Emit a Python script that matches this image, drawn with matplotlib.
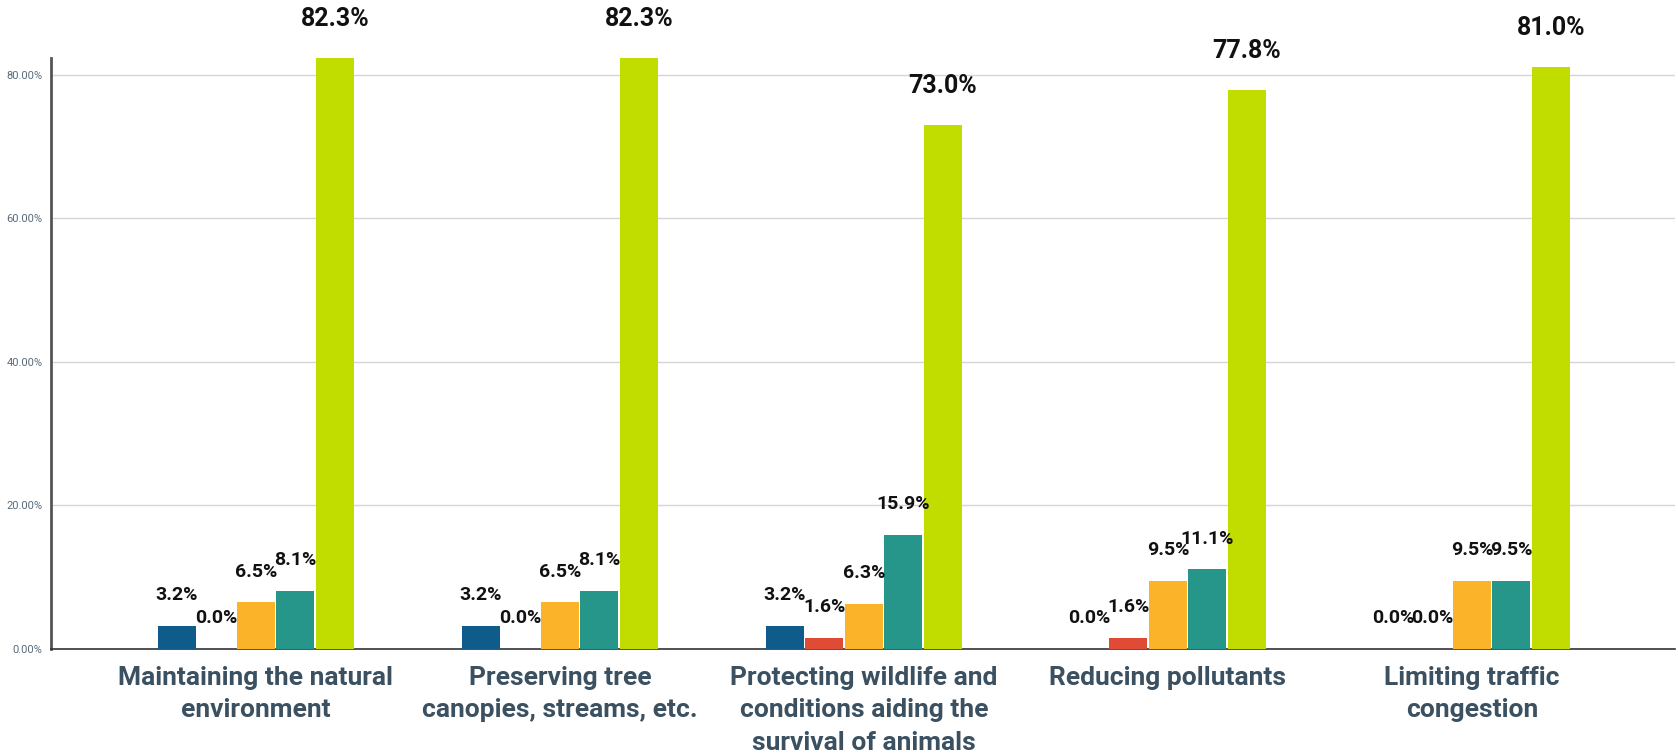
import numpy as np
import matplotlib.pyplot as plt

plt.rcParams['font.family'] = ['Roboto', 'DejaVu Sans']

categories = ['Maintaining the natural\nenvironment',
              'Preserving tree\ncanopies, streams, etc.',
              'Protecting wildlife and\nconditions aiding the\nsurvival of animals',
              'Reducing pollutants',
              'Limiting traffic\ncongestion']
# five response series per category (percent)
s1 = [3.2, 3.2, 3.2, 0.0, 0.0]
s2 = [0.0, 0.0, 1.6, 1.6, 0.0]
s3 = [6.5, 6.5, 6.3, 9.5, 9.5]
s4 = [8.1, 8.1, 15.9, 11.1, 9.5]
s5 = [82.3, 82.3, 73.0, 77.8, 81.0]
series = [s1, s2, s3, s4, s5]
colors = ['#0f5b8c', '#e04b35', '#fbb42a', '#26958a', '#c1dd00']
yticks = [0, 20, 40, 60, 80]

fig = plt.figure(figsize=(16.78, 7.55), dpi=100)
ax = fig.add_axes([0.0304, 0.1404, 0.9676, 0.7828])

x = np.arange(len(categories))
w = 0.125
step = 0.13
for i, (vals, c) in enumerate(zip(series, colors)):
    pos = x + (i - 2) * step
    ax.bar(pos, vals, width=w, color=c, zorder=3)
    big = i == 4
    for px, v in zip(pos, vals):
        ax.annotate(f'{v:.1f}%', (px, v), xytext=(0, 28 if big else 22),
                    textcoords='offset points', ha='center', va='center',
                    fontsize=18 if big else 14, fontweight='bold',
                    color='#111111', zorder=4, annotation_clip=False)

ax.set_xlim(-0.674, 4.667)
ax.set_ylim(0, 82.3)
ax.set_yticks(yticks)
ax.set_yticklabels([f'{t:.2f}%' for t in yticks], fontsize=8, color='#5a6b7a')
ax.set_xticks(x)
ax.set_xticklabels(categories, fontsize=19, fontweight='bold', color='#3b5060',
                   linespacing=1.45)
ax.tick_params(axis='x', length=0, pad=12)
ax.tick_params(axis='y', length=0, pad=6)
ax.grid(axis='y', color='#d6d6d6', linewidth=1, zorder=0)
for s in ['top', 'right']:
    ax.spines[s].set_visible(False)
ax.spines['left'].set_color('#555555')
ax.spines['left'].set_linewidth(2)
ax.spines['bottom'].set_color('#333333')
ax.spines['bottom'].set_linewidth(1.2)

fig.savefig('out.png', dpi=100)
